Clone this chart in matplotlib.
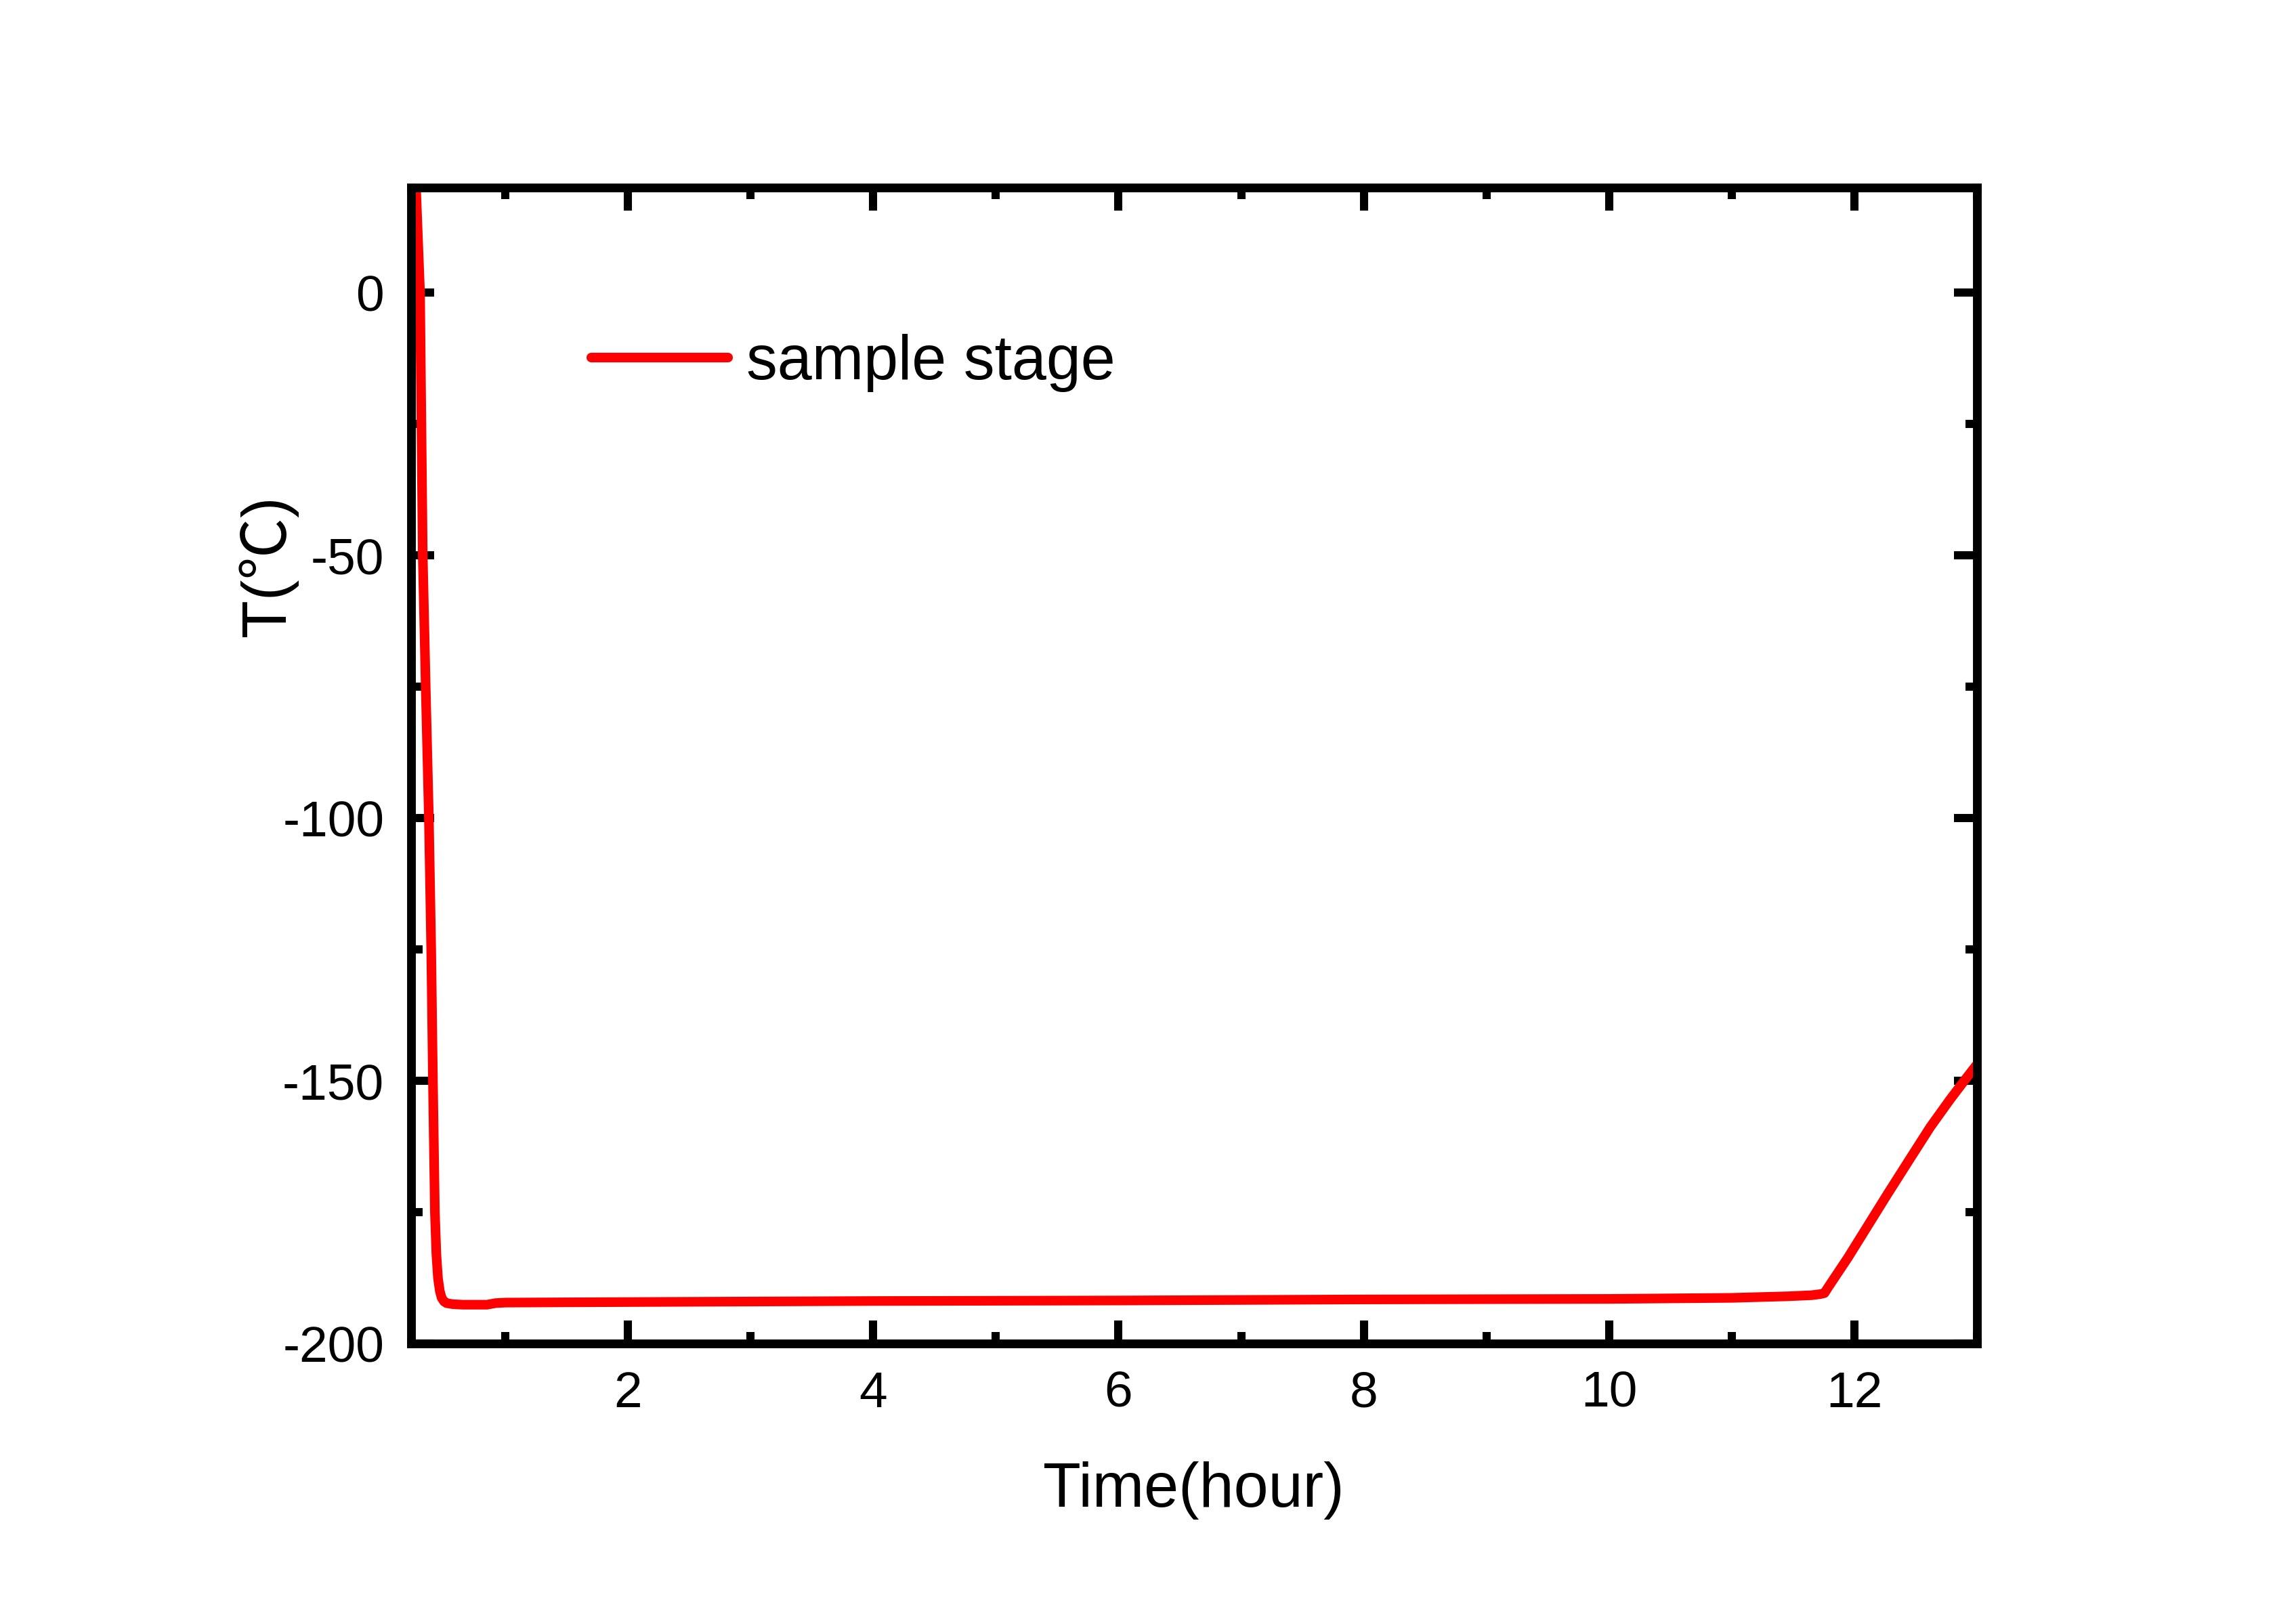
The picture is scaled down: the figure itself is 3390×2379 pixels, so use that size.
import matplotlib
matplotlib.use("Agg")
import matplotlib.pyplot as plt
from matplotlib.ticker import MultipleLocator

# Data
time_hour = [0.271, 0.304, 0.326, 0.35, 0.376, 0.395, 0.409, 0.425, 0.437, 0.45, 0.465, 0.48,
             0.50, 0.52, 0.57, 0.65, 0.85, 0.92, 1.0, 2.0, 4.0, 6.0, 8.0, 10.0, 11.0,
             11.46, 11.65, 11.72, 11.757, 11.79, 11.95, 12.27, 12.45, 12.62, 12.78, 12.91, 13.0]
temp_c = [20.0, 0.0, -50.0, -75.0, -100.0, -125.0, -150.0, -175.0, -183.0, -187.5, -190.0, -191.3,
          -192.0, -192.3, -192.5, -192.6, -192.6, -192.3, -192.2, -192.1, -191.9, -191.8, -191.6, -191.5, -191.3,
          -191.0, -190.8, -190.6, -190.4, -189.2, -183.6, -171.6, -165.0, -158.8, -153.6, -149.6, -146.9]

series_label = "sample stage"
x_label = "Time(hour)"
y_label = "T(\u2103)"
x_major_ticks = [2, 4, 6, 8, 10, 12]
y_major_ticks = [0, -50, -100, -150, -200]

plt.rcParams['font.family'] = ['Liberation Sans', 'Noto Sans CJK SC', 'DejaVu Sans']
plt.rcParams['axes.unicode_minus'] = False

fig = plt.figure(figsize=(11.3, 7.93), dpi=300)
ax = fig.add_axes([0.179, 0.166, 0.682, 0.7176])

ax.plot(time_hour, temp_c, color='#ff0000', lw=3.4, label=series_label,
        solid_capstyle='round', solid_joinstyle='round')

ax.set_xlim(0.23, 13.0)
ax.set_ylim(-200, 20)
ax.set_xticks(x_major_ticks)
ax.set_yticks(y_major_ticks)
ax.xaxis.set_minor_locator(MultipleLocator(1))
ax.yaxis.set_minor_locator(MultipleLocator(25))

for s in ax.spines.values():
    s.set_linewidth(3.1)

ax.tick_params(which='both', direction='in', top=True, right=True, width=2.9)
ax.tick_params(which='major', length=8.2, labelsize=18, pad=9.5)
ax.tick_params(which='minor', length=4.0)

ax.set_xlabel(x_label, fontsize=22, labelpad=15.6)
ax.set_ylabel(y_label, fontsize=22)
ax.yaxis.set_label_coords(-0.072, 0.6725)

leg = ax.legend(loc='center left', bbox_to_anchor=(0.0794, 0.848), frameon=False,
                fontsize=22, handlelength=2.2, handletextpad=0.3)

fig.savefig("out.png", dpi=300, facecolor='white')
